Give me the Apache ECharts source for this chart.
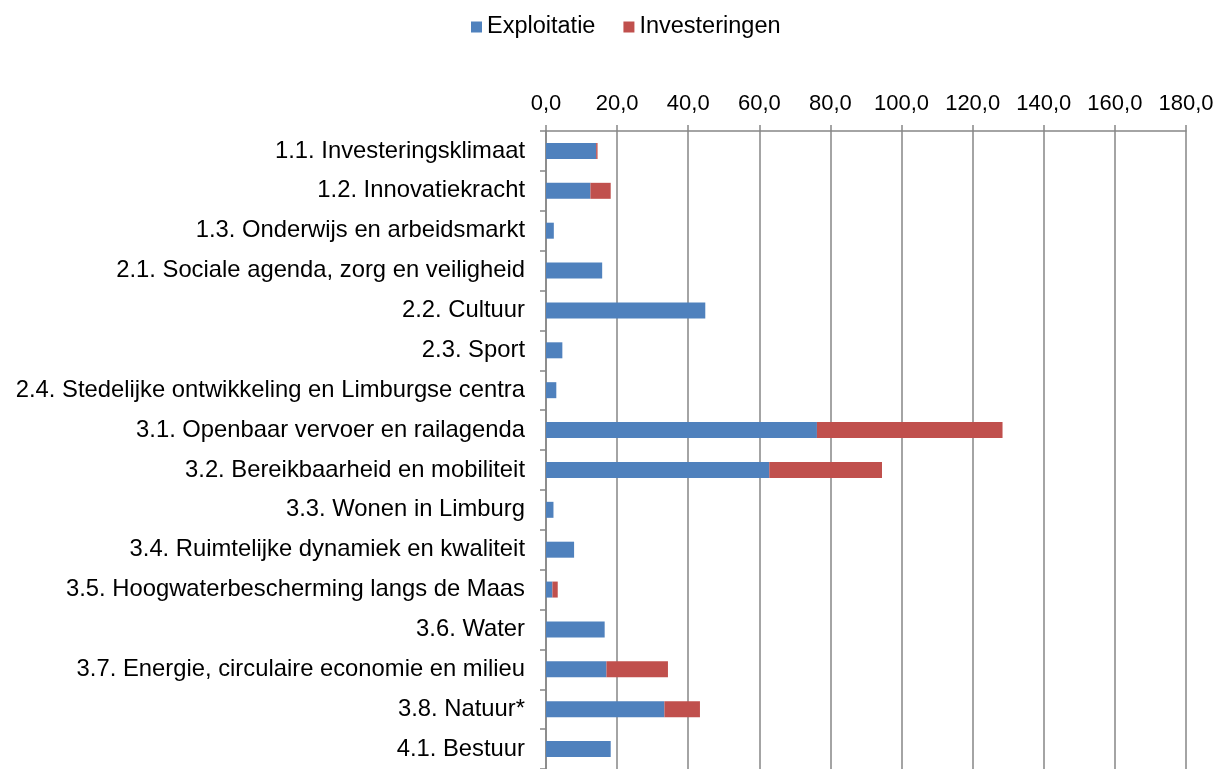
<!DOCTYPE html>
<html>
<head>
<meta charset="utf-8">
<script src="https://cdn.jsdelivr.net/npm/echarts@6/dist/echarts.min.js"></script>
<style>
  html, body { margin: 0; padding: 0; background: #fff; }
  #chart { width: 1221px; height: 769px; }
</style>
</head>
<body>
<div id="chart"></div>
<script>
// categorieën (van boven naar beneden)
var categories = [
  '1.1. Investeringsklimaat',
  '1.2. Innovatiekracht',
  '1.3. Onderwijs en arbeidsmarkt',
  '2.1. Sociale agenda, zorg en veiligheid',
  '2.2. Cultuur',
  '2.3. Sport',
  '2.4. Stedelijke ontwikkeling en Limburgse centra',
  '3.1. Openbaar vervoer en railagenda',
  '3.2. Bereikbaarheid en mobiliteit',
  '3.3. Wonen in Limburg',
  '3.4. Ruimtelijke dynamiek en kwaliteit',
  '3.5. Hoogwaterbescherming langs de Maas',
  '3.6. Water',
  '3.7. Energie, circulaire economie en milieu',
  '3.8. Natuur*',
  '4.1. Bestuur'
];
var exploitatie = [14.1, 12.5, 2.2, 15.8, 44.8, 4.6, 2.9, 76.2, 62.8, 2.1, 7.9, 1.8, 16.5, 17.0, 33.3, 18.2];
var investeringen = [0.4, 5.7, 0, 0, 0, 0, 0, 52.2, 31.7, 0, 0, 1.5, 0, 17.3, 10.0, 0];

var axisMax = 180;
var axisStep = 20;

var chart = echarts.init(document.getElementById('chart'));

var fontFam = 'Liberation Sans, Arial, sans-serif';

var option = {
  animation: false,
  textStyle: { fontFamily: fontFam },
  legend: {
    top: 10,
    left: 466,
    icon: 'rect',
    itemWidth: 11,
    itemHeight: 11,
    itemGap: 28,
    textStyle: { fontSize: 23.5, color: '#000', fontFamily: fontFam },
    data: ['Exploitatie', 'Investeringen']
  },
  grid: {
    left: 546,
    right: 35,
    top: 131,
    height: 640,
    containLabel: false
  },
  xAxis: {
    type: 'value',
    position: 'top',
    min: 0,
    max: axisMax,
    interval: axisStep,
    axisLine: { show: true, lineStyle: { color: '#868686', width: 1.5 } },
    axisTick: { show: true, length: 6, lineStyle: { color: '#868686', width: 1.5 } },
    splitLine: { show: true, lineStyle: { color: '#868686', width: 1.5 } },
    axisLabel: {
      fontSize: 22,
      color: '#000',
      margin: 16,
      fontFamily: fontFam,
      formatter: function (v) { return v.toFixed(1).replace('.', ','); }
    }
  },
  yAxis: {
    type: 'category',
    inverse: true,
    data: categories,
    axisLine: { show: true, lineStyle: { color: '#868686', width: 1.5 } },
    axisTick: { show: true, length: 6, lineStyle: { color: '#868686', width: 1.5 } },
    axisLabel: { fontSize: 23.8, color: '#000', margin: 21, fontFamily: fontFam }
  },
  series: [
    {
      name: 'Exploitatie',
      type: 'bar',
      stack: 'totaal',
      barWidth: 16,
      itemStyle: { color: '#4F81BD' },
      data: exploitatie
    },
    {
      name: 'Investeringen',
      type: 'bar',
      stack: 'totaal',
      barWidth: 16,
      itemStyle: { color: '#C0504D' },
      data: investeringen
    }
  ]
};

chart.setOption(option);
</script>
</body>
</html>
